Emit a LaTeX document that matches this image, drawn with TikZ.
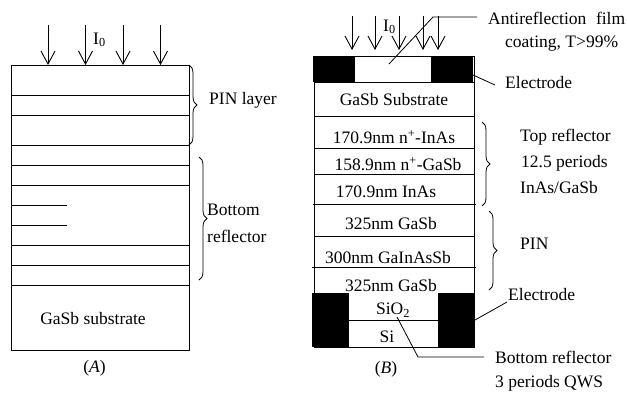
\documentclass[tikz,border=0pt]{standalone}
\usepackage{fontspec}
\setmainfont{Liberation Serif}
\usetikzlibrary{arrows.meta, positioning, decorations.pathreplacing}

\begin{document}
\begin{tikzpicture}[
  x=1pt, y=-1pt,
  txt/.style={font=\fontsize{17.5}{21}\selectfont, inner sep=0pt},
  lefttxt/.style={txt, anchor=west},
  ray/.style={-{Straight Barb[length=13pt, width=14pt]}, line width=0.9pt},
  layer/.style={line width=1pt},
  lead/.style={line width=0.8pt},
  curly/.style={decorate, decoration={brace, amplitude=8pt}, line width=0.8pt}
]
  \useasboundingbox (0,0) rectangle (627,392);

  % structure A
  \draw[layer] (11,65) rectangle (189,350);
  \foreach \y in {95,115,145,165,185,245,265,285}
    \draw[layer] (11,\y) -- (189,\y);
  \foreach \y in {205,225}
    \draw[layer] (11,\y) -- (67,\y);
  \foreach \x [count=\i] in {48,85.5,123,160.5} {
    \coordinate (Atop\i) at (\x,25);
    \coordinate (Abot\i) at (\x,65);
    \draw[ray] (Atop\i) -- (Abot\i);
  }
  \node[lefttxt] (Aint) at (93,40) {I\textsubscript{0}};

  \coordinate (Apin1) at (189,65);
  \coordinate (Apin2) at (189,145);
  \draw[curly] (Apin1) -- (Apin2);
  \node[lefttxt] (Apin) at (209,100) {PIN layer};

  \coordinate (Abr1) at (199,157);
  \coordinate (Abr2) at (199,280);
  \draw[curly] (Abr1) -- (Abr2);
  \node[lefttxt] (Abot) at (207,210) {Bottom};
  \node[lefttxt] (Arefl) at (207,236) {reflector};

  \node[txt] (Asub) at (93,319) {GaSb substrate};
  \node[txt] (Acap) at (94.5,368) {(\textit{A})};

  % structure B
  \draw[layer] (314,56) rectangle (474,347);
  \fill[black] (313,56) rectangle (355,82);
  \fill[black] (431,56) rectangle (473,82);
  \fill[black] (312,293) rectangle (349,347);
  \fill[black] (438,293) rectangle (475,347);
  \draw[layer] (314,82) -- (474,82);
  \foreach \y in {116,148,174.5,236}
    \draw[layer] (314,\y) -- (474,\y);
  \draw[layer] (313,204) -- (476,204);
  \draw[layer] (312,267) -- (476,267);
  \draw[layer] (349,320) -- (438,320);
  \foreach \x [count=\i] in {352,375,399,423,438} {
    \coordinate (Btop\i) at (\x,16);
    \coordinate (Bbot\i) at (\x,50);
    \draw[ray] (Btop\i) -- (Bbot\i);
  }
  \node[lefttxt] (Bint) at (383,27) {I\textsubscript{0}};

  \node[txt] (Bsub) at (394,100) {GaSb Substrate};
  \node[txt] (Bl1) at (394,137) {170.9nm n\textsuperscript{+}-InAs};
  \node[txt] (Bl2) at (398,164) {158.9nm n\textsuperscript{+}-GaSb};
  \node[txt] (Bl3) at (386,192) {170.9nm InAs};
  \node[txt] (Bl4) at (391,224) {325nm GaSb};
  \node[txt] (Bl5) at (388,258) {300nm GaInAsSb};
  \node[txt] (Bl6) at (391,286) {325nm GaSb};
  \node[txt] (Bsio) at (393,310) {SiO\textsubscript{2}};
  \node[txt] (Bsi) at (387,337) {Si};
  \node[txt] (Bcap) at (386,369) {(\textit{B})};

  \node[lefttxt] (Banti) at (488,18) {Antireflection\hspace{0.3em} film};
  \node[lefttxt] (Bcoat) at (505,44) {coating, T>99\%};
  \node[lefttxt] (Bel1) at (505,83) {Electrode};
  \node[lefttxt] (Btr1) at (520,137) {Top reflector};
  \node[lefttxt] (Btr2) at (521,163) {12.5 periods};
  \node[lefttxt] (Btr3) at (520,188) {InAs/GaSb};
  \node[lefttxt] (Bpin) at (520,244) {PIN};
  \node[lefttxt] (Bel2) at (508,295) {Electrode};
  \node[lefttxt] (Bbr1) at (495,357) {Bottom reflector};
  \node[lefttxt] (Bbr2) at (495,383) {3 periods QWS};

  \coordinate (Bfilm) at (389,64);
  \coordinate (Bknee) at (433,17);
  \coordinate (Bfilmend) at (477,17);
  \draw[lead] (Bfilm) -- (Bknee) -- (Bfilmend);
  \coordinate (Bpad1) at (473,75);
  \coordinate (Bpad1end) at (495,85);
  \draw[lead] (Bpad1) -- (Bpad1end);
  \coordinate (Bpad2) at (475,320);
  \coordinate (Bpad2end) at (507,302);
  \draw[lead] (Bpad2) -- (Bpad2end);
  \coordinate (Bqws) at (397,317);
  \coordinate (Bkneeb) at (418,357);
  \coordinate (Bqwsend) at (484,357);
  \draw[lead] (Bqws) -- (Bkneeb) -- (Bqwsend);

  \coordinate (Btb1) at (482,122);
  \coordinate (Btb2) at (482,206);
  \draw[curly] (Btb1) -- (Btb2);
  \coordinate (Bpb1) at (489,211);
  \coordinate (Bpb2) at (489,290);
  \draw[curly] (Bpb1) -- (Bpb2);
\end{tikzpicture}
\end{document}
